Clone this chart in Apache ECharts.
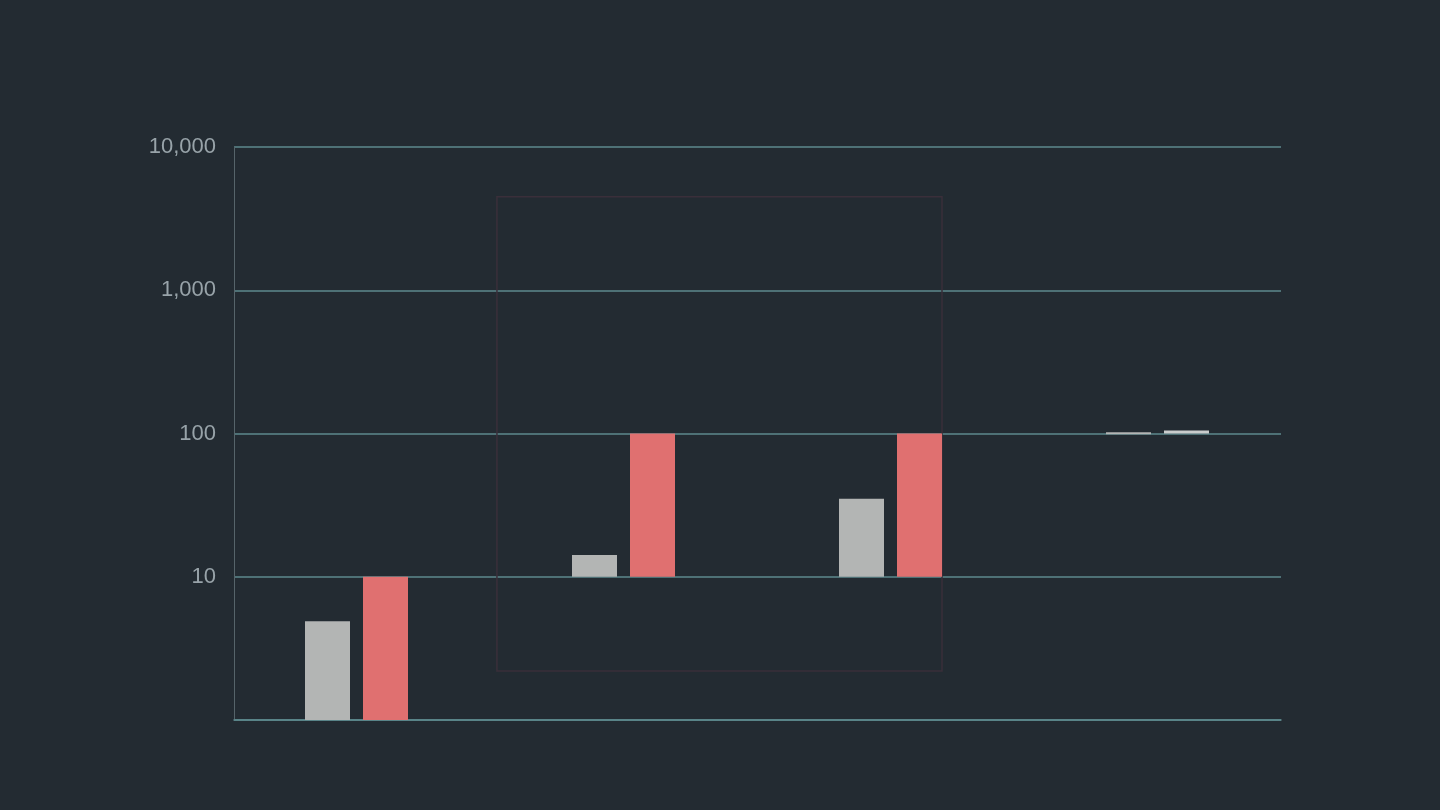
<!DOCTYPE html>
<html>
<head>
<meta charset="utf-8">
<style>
html,body{margin:0;padding:0;background:#232b32;}
#chart{width:1440px;height:810px;}
</style>
<script src="https://cdn.jsdelivr.net/npm/echarts@6/dist/echarts.min.js"></script>
</head>
<body>
<div id="chart"></div>
<script>
// Data
const categories = ['A', 'B', 'C', 'D'];
const grayLow  = [1, 10, 10, 100];
const grayHigh = [4.9, 14.2, 35, 102];
const redLow   = [1, 10, 10, 100];
const redHigh  = [10, 100, 100, 105];
const yTicks = [1, 10, 100, 1000, 10000];
const boxLow = 2.2, boxHigh = 4500;

const BAR_W = 45, GAP = 13;
const colors = { gray: '#b3b5b4', red: '#e07070', light: '#c9cccc' };
const TOP = 147, BOTTOM = 90;

function rangeData(low, high) {
  return categories.map((c, i) => [i, low[i], high[i]]);
}

function makeRender(side, colorFn) {
  return function (params, api) {
    const i = api.value(0);
    const p0 = api.coord([i, api.value(1)]);
    const p1 = api.coord([i, api.value(2)]);
    const off = side * (GAP / 2 + BAR_W / 2);
    const x = p0[0] + off - BAR_W / 2;
    return {
      type: 'rect',
      shape: { x: x, y: p1[1], width: BAR_W, height: Math.max(p0[1] - p1[1], 2) },
      style: { fill: colorFn(i) }
    };
  };
}

const chart = echarts.init(document.getElementById('chart'));
chart.setOption({
  backgroundColor: '#232b32',
  animation: false,
  grid: [
    { left: 234, right: 159, top: TOP, bottom: BOTTOM },
    { left: 223, right: 149, top: TOP, bottom: BOTTOM }
  ],
  xAxis: [
    {
      gridIndex: 0,
      type: 'category',
      data: categories,
      axisLine: { show: true, lineStyle: { color: '#5e8a8e', width: 1.5 } },
      axisTick: { show: false },
      axisLabel: { show: false },
      splitLine: { show: false }
    },
    {
      gridIndex: 1,
      type: 'category',
      data: categories,
      axisLine: { show: false },
      axisTick: { show: false },
      axisLabel: { show: false },
      splitLine: { show: false }
    }
  ],
  yAxis: [
    {
      gridIndex: 0,
      type: 'log',
      logBase: 10,
      min: yTicks[0],
      max: yTicks[yTicks.length - 1],
      axisLine: { show: true, lineStyle: { color: '#56646a', width: 1 } },
      axisTick: { show: false },
      axisLabel: {
        color: '#98a3a9',
        fontSize: 22,
        fontFamily: 'Liberation Sans, Arial, sans-serif',
        margin: 18,
        formatter: function (v) { return v === 1 ? '' : v.toLocaleString('en-US'); }
      },
      splitLine: { show: true, lineStyle: { color: '#5e8a8e', width: 1.5 } }
    },
    {
      gridIndex: 1,
      type: 'log',
      logBase: 10,
      min: yTicks[0],
      max: yTicks[yTicks.length - 1],
      show: false
    }
  ],
  series: [
    {
      type: 'custom',
      name: 'gray',
      xAxisIndex: 1, yAxisIndex: 1,
      renderItem: makeRender(-1, () => colors.gray),
      encode: { x: 0, y: [1, 2] },
      data: rangeData(grayLow, grayHigh),
      z: 3
    },
    {
      type: 'custom',
      name: 'red',
      xAxisIndex: 1, yAxisIndex: 1,
      renderItem: makeRender(1, (i) => i === categories.length - 1 ? colors.light : colors.red),
      encode: { x: 0, y: [1, 2] },
      data: rangeData(redLow, redHigh),
      z: 3
    }
  ]
});

// Highlight box: around categories B and C
const band = chart.getModel().getComponent('xAxis', 1).axis.getBandWidth();
const cB = chart.convertToPixel({ xAxisIndex: 1 }, categories[1]);
const cC = chart.convertToPixel({ xAxisIndex: 1 }, categories[2]);
const yT = chart.convertToPixel({ yAxisIndex: 1 }, boxHigh);
const yB = chart.convertToPixel({ yAxisIndex: 1 }, boxLow);
const left = cB - band * 0.474;
const right = cC + GAP / 2 + BAR_W;
chart.setOption({
  graphic: [{
    type: 'rect',
    z: 1,
    shape: { x: left, y: yT, width: right - left, height: yB - yT },
    style: { fill: 'rgba(0,0,0,0)', stroke: '#3a2f3a', lineWidth: 1.5 }
  }]
});
</script>
</body>
</html>
